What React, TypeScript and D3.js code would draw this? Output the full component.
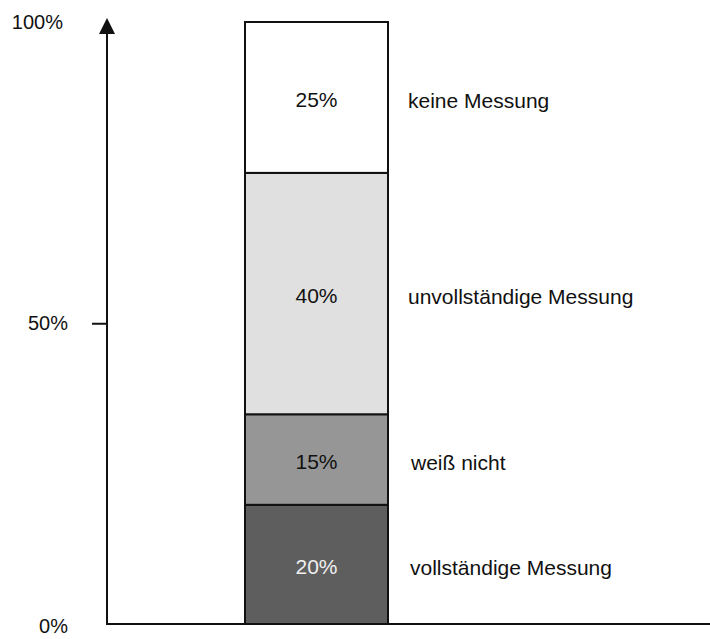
import React from "react";
import * as d3 from "d3";

const categories = ["vollständige Messung", "weiß nicht", "unvollständige Messung", "keine Messung"];
const values = [20, 15, 40, 25];
const segmentColors = ["#5e5e5e", "#969696", "#e0e0e0", "#ffffff"];
const valueTextColors = ["#f0f0f0", "#111111", "#111111", "#111111"];
const tickValues = [0, 50, 100];
const tickLabels = ["0%", "50%", "100%"];

const W = 710;
const H = 639;
const FONT = "'Liberation Sans', Arial, Helvetica, sans-serif";

export default function App() {
  const y = d3.scaleLinear().domain([0, 100]).range([625.5, 22]);
  const axisX = 107;
  const axisY = 624;
  const barX0 = 245;
  const barX1 = 388;

  const stacked = values.reduce<{ start: number; end: number }[]>((acc, v) => {
    const start = acc.length ? acc[acc.length - 1].end : 0;
    acc.push({ start, end: start + v });
    return acc;
  }, []);

  const labelX = [410, 411, 408, 408];
  const tickLabelX: Record<number, number> = { 0: 68, 50: 68, 100: 63 };
  const tickLabelY: Record<number, number> = { 0: 626, 50: 323, 100: 22 };

  return (
    <svg width={W} height={H} style={{ position: "absolute", left: 0, top: 0 }} fontFamily={FONT}>
      <rect x={0} y={0} width={W} height={H} fill="#ffffff" />
      {stacked.map((s, i) => {
        const top = y(s.end);
        const bottom = Math.min(y(s.start), axisY);
        const mid = (top + bottom) / 2;
        return (
          <g key={categories[i]}>
            <rect
              x={barX0}
              y={top}
              width={barX1 - barX0}
              height={bottom - top}
              fill={segmentColors[i]}
              stroke="#111111"
              strokeWidth={2}
            />
            <text
              x={(barX0 + barX1) / 2}
              y={mid + 2}
              textAnchor="middle"
              dominantBaseline="central"
              fontSize={21}
              fill={valueTextColors[i]}
            >
              {values[i]}%
            </text>
            <text
              x={labelX[i]}
              y={mid + 3}
              dominantBaseline="central"
              fontSize={21}
              fill="#111111"
            >
              {categories[i]}
            </text>
          </g>
        );
      })}
      <line x1={axisX} x2={axisX} y1={axisY + 1} y2={30} stroke="#111111" strokeWidth={2} />
      <path d={`M${axisX},18 L${axisX - 8},34 L${axisX + 8},34 Z`} fill="#111111" />
      <line x1={axisX - 1} x2={W} y1={axisY} y2={axisY} stroke="#111111" strokeWidth={2} />
      <line x1={92} x2={axisX} y1={y(50)} y2={y(50)} stroke="#111111" strokeWidth={2} />
      {tickValues.map((t, i) => (
        <text
          key={t}
          x={tickLabelX[t]}
          y={tickLabelY[t]}
          textAnchor="end"
          dominantBaseline="central"
          fontSize={20}
          fill="#111111"
        >
          {tickLabels[i]}
        </text>
      ))}
    </svg>
  );
}
